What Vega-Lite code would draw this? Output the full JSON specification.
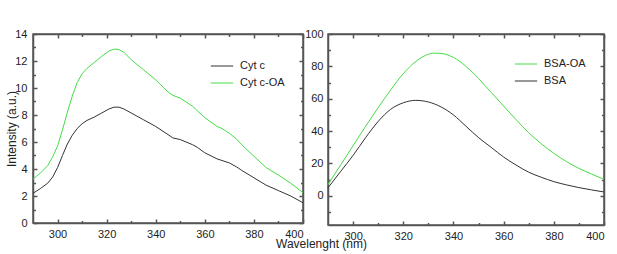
{
  "$schema": "https://vega.github.io/schema/vega-lite/v6.json",
  "padding": {"left": 4, "top": 27, "right": 5, "bottom": 5},
  "bounds": "flush",
  "spacing": 25,
  "resolve": {"scale": {"color": "independent"}, "legend": {"color": "independent"}},
  "datasets": {
    "cyt": [
      {"wl": 290, "v": 2.2, "s": "Cyt c"}, {"wl": 293, "v": 2.55, "s": "Cyt c"}, {"wl": 296, "v": 2.95, "s": "Cyt c"}, {"wl": 298, "v": 3.4, "s": "Cyt c"},
      {"wl": 300, "v": 4.1, "s": "Cyt c"}, {"wl": 302, "v": 5.0, "s": "Cyt c"}, {"wl": 304, "v": 5.85, "s": "Cyt c"}, {"wl": 306, "v": 6.5, "s": "Cyt c"},
      {"wl": 308, "v": 7.0, "s": "Cyt c"}, {"wl": 310, "v": 7.35, "s": "Cyt c"}, {"wl": 312, "v": 7.6, "s": "Cyt c"}, {"wl": 315, "v": 7.85, "s": "Cyt c"},
      {"wl": 318, "v": 8.15, "s": "Cyt c"}, {"wl": 321, "v": 8.45, "s": "Cyt c"}, {"wl": 323, "v": 8.58, "s": "Cyt c"}, {"wl": 325, "v": 8.58, "s": "Cyt c"},
      {"wl": 327, "v": 8.45, "s": "Cyt c"}, {"wl": 330, "v": 8.15, "s": "Cyt c"}, {"wl": 335, "v": 7.65, "s": "Cyt c"}, {"wl": 340, "v": 7.15, "s": "Cyt c"},
      {"wl": 345, "v": 6.55, "s": "Cyt c"}, {"wl": 347, "v": 6.3, "s": "Cyt c"}, {"wl": 350, "v": 6.18, "s": "Cyt c"}, {"wl": 355, "v": 5.8, "s": "Cyt c"},
      {"wl": 357, "v": 5.6, "s": "Cyt c"}, {"wl": 360, "v": 5.2, "s": "Cyt c"}, {"wl": 365, "v": 4.75, "s": "Cyt c"}, {"wl": 370, "v": 4.45, "s": "Cyt c"},
      {"wl": 373, "v": 4.15, "s": "Cyt c"}, {"wl": 375, "v": 3.9, "s": "Cyt c"}, {"wl": 380, "v": 3.35, "s": "Cyt c"}, {"wl": 385, "v": 2.8, "s": "Cyt c"},
      {"wl": 390, "v": 2.4, "s": "Cyt c"}, {"wl": 395, "v": 2.0, "s": "Cyt c"}, {"wl": 400, "v": 1.5, "s": "Cyt c"},
      {"wl": 290, "v": 3.25, "s": "Cyt c-OA"}, {"wl": 293, "v": 3.7, "s": "Cyt c-OA"}, {"wl": 296, "v": 4.25, "s": "Cyt c-OA"}, {"wl": 298, "v": 4.9, "s": "Cyt c-OA"},
      {"wl": 300, "v": 5.7, "s": "Cyt c-OA"}, {"wl": 302, "v": 6.9, "s": "Cyt c-OA"}, {"wl": 304, "v": 8.2, "s": "Cyt c-OA"}, {"wl": 306, "v": 9.4, "s": "Cyt c-OA"},
      {"wl": 308, "v": 10.4, "s": "Cyt c-OA"}, {"wl": 310, "v": 11.05, "s": "Cyt c-OA"}, {"wl": 312, "v": 11.45, "s": "Cyt c-OA"}, {"wl": 315, "v": 11.9, "s": "Cyt c-OA"},
      {"wl": 318, "v": 12.35, "s": "Cyt c-OA"}, {"wl": 321, "v": 12.75, "s": "Cyt c-OA"}, {"wl": 323, "v": 12.88, "s": "Cyt c-OA"}, {"wl": 325, "v": 12.85, "s": "Cyt c-OA"},
      {"wl": 327, "v": 12.65, "s": "Cyt c-OA"}, {"wl": 330, "v": 12.1, "s": "Cyt c-OA"}, {"wl": 335, "v": 11.35, "s": "Cyt c-OA"}, {"wl": 340, "v": 10.6, "s": "Cyt c-OA"},
      {"wl": 345, "v": 9.7, "s": "Cyt c-OA"}, {"wl": 347, "v": 9.45, "s": "Cyt c-OA"}, {"wl": 350, "v": 9.25, "s": "Cyt c-OA"}, {"wl": 355, "v": 8.65, "s": "Cyt c-OA"},
      {"wl": 360, "v": 7.8, "s": "Cyt c-OA"}, {"wl": 365, "v": 7.15, "s": "Cyt c-OA"}, {"wl": 367, "v": 7.0, "s": "Cyt c-OA"}, {"wl": 370, "v": 6.65, "s": "Cyt c-OA"},
      {"wl": 373, "v": 6.2, "s": "Cyt c-OA"}, {"wl": 375, "v": 5.8, "s": "Cyt c-OA"}, {"wl": 380, "v": 4.95, "s": "Cyt c-OA"}, {"wl": 385, "v": 4.1, "s": "Cyt c-OA"},
      {"wl": 390, "v": 3.55, "s": "Cyt c-OA"}, {"wl": 395, "v": 2.95, "s": "Cyt c-OA"}, {"wl": 400, "v": 2.25, "s": "Cyt c-OA"}
    ],
    "bsa": [
      {"wl": 290, "v": 5, "s": "BSA"}, {"wl": 295, "v": 15, "s": "BSA"}, {"wl": 300, "v": 25, "s": "BSA"}, {"wl": 305, "v": 36, "s": "BSA"},
      {"wl": 310, "v": 46, "s": "BSA"}, {"wl": 315, "v": 53.5, "s": "BSA"}, {"wl": 320, "v": 57.5, "s": "BSA"}, {"wl": 325, "v": 59, "s": "BSA"},
      {"wl": 330, "v": 58, "s": "BSA"}, {"wl": 335, "v": 55, "s": "BSA"}, {"wl": 340, "v": 50, "s": "BSA"}, {"wl": 345, "v": 43, "s": "BSA"},
      {"wl": 350, "v": 36, "s": "BSA"}, {"wl": 355, "v": 30, "s": "BSA"}, {"wl": 360, "v": 24, "s": "BSA"}, {"wl": 365, "v": 19, "s": "BSA"},
      {"wl": 370, "v": 14.6, "s": "BSA"}, {"wl": 375, "v": 11.5, "s": "BSA"}, {"wl": 380, "v": 8.8, "s": "BSA"}, {"wl": 385, "v": 6.8, "s": "BSA"},
      {"wl": 390, "v": 5.1, "s": "BSA"}, {"wl": 395, "v": 3.7, "s": "BSA"}, {"wl": 400, "v": 2.4, "s": "BSA"},
      {"wl": 290, "v": 7, "s": "BSA-OA"}, {"wl": 295, "v": 19, "s": "BSA-OA"}, {"wl": 300, "v": 31, "s": "BSA-OA"}, {"wl": 305, "v": 43, "s": "BSA-OA"},
      {"wl": 310, "v": 54.5, "s": "BSA-OA"}, {"wl": 315, "v": 65.5, "s": "BSA-OA"}, {"wl": 320, "v": 75.5, "s": "BSA-OA"}, {"wl": 325, "v": 83, "s": "BSA-OA"},
      {"wl": 330, "v": 87.5, "s": "BSA-OA"}, {"wl": 332, "v": 88.2, "s": "BSA-OA"}, {"wl": 335, "v": 88, "s": "BSA-OA"}, {"wl": 340, "v": 85.5, "s": "BSA-OA"},
      {"wl": 345, "v": 80, "s": "BSA-OA"}, {"wl": 350, "v": 72.5, "s": "BSA-OA"}, {"wl": 355, "v": 64, "s": "BSA-OA"}, {"wl": 360, "v": 55.5, "s": "BSA-OA"},
      {"wl": 365, "v": 47, "s": "BSA-OA"}, {"wl": 370, "v": 39, "s": "BSA-OA"}, {"wl": 375, "v": 32.2, "s": "BSA-OA"}, {"wl": 380, "v": 26.3, "s": "BSA-OA"},
      {"wl": 385, "v": 21.2, "s": "BSA-OA"}, {"wl": 390, "v": 17, "s": "BSA-OA"}, {"wl": 395, "v": 13.5, "s": "BSA-OA"}, {"wl": 400, "v": 10.2, "s": "BSA-OA"}
    ]
  },
  "hconcat": [
    {
      "width": 270,
      "height": 189,
      "data": {"name": "cyt"},
      "layer": [
        {
          "mark": {"type": "line", "strokeWidth": 1},
          "encoding": {
            "x": {"field": "wl", "type": "quantitative", "scale": {"domain": [290, 400], "nice": false, "zero": false},
              "axis": {"orient": "bottom", "values": [300, 320, 340, 360, 380, 400], "grid": false, "domainColor": "#555555", "domainWidth": 1.5, "tickColor": "#555555", "tickWidth": 1.5, "tickSize": -4, "labelPadding": 9.5, "labelColor": "#222222", "labelFont": "Liberation Sans", "labelFontSize": 11,
                "title": "Wavelenght (nm)", "titleColor": "#222222", "titleFont": "Liberation Sans", "titleFontSize": 12, "titleFontWeight": "normal", "titleX": 288, "titleY": 15}},
            "y": {"field": "v", "type": "quantitative", "scale": {"domain": [0, 14], "nice": false, "zero": false},
              "axis": {"orient": "left", "values": [0, 2, 4, 6, 8, 10, 12, 14], "grid": false, "domainColor": "#555555", "domainWidth": 1.5, "tickColor": "#555555", "tickWidth": 1.5, "tickSize": -4, "labelPadding": 10, "labelColor": "#222222", "labelFont": "Liberation Sans", "labelFontSize": 11,
                "title": "Intensity (a.u.)", "titleColor": "#222222", "titleFont": "Liberation Sans", "titleFontSize": 12, "titleFontWeight": "normal", "titleX": -15}},
            "color": {"field": "s", "type": "nominal", "scale": {"domain": ["Cyt c", "Cyt c-OA"], "range": ["#333333", "#44dd44"]},
              "legend": {"orient": "none", "legendX": 177, "legendY": 20, "title": null, "symbolType": "stroke", "symbolSize": 500, "symbolStrokeWidth": 1, "labelOffset": 6, "rowPadding": -10, "labelFont": "Liberation Sans", "labelFontSize": 11, "labelColor": "#222222"}}
          }
        },
        {
          "mark": {"type": "line", "opacity": 0},
          "encoding": {
            "x": {"field": "wl", "type": "quantitative", "scale": {"domain": [290, 400], "nice": false, "zero": false},
              "axis": {"orient": "bottom", "values": [310, 330, 350, 370, 390], "grid": false, "labels": false, "domain": false, "tickColor": "#555555", "tickWidth": 1.5, "tickSize": -2.5, "title": null}},
            "y": {"field": "v", "type": "quantitative", "scale": {"domain": [0, 14], "nice": false, "zero": false},
              "axis": {"orient": "left", "values": [1, 3, 5, 7, 9, 11, 13], "grid": false, "labels": false, "domain": false, "tickColor": "#555555", "tickWidth": 1.5, "tickSize": -2.5, "title": null}},
            "detail": {"field": "s"}
          }
        },
        {
          "mark": {"type": "line", "opacity": 0},
          "encoding": {
            "x": {"field": "wl", "type": "quantitative", "scale": {"domain": [290, 400], "nice": false, "zero": false},
              "axis": {"orient": "top", "values": [300, 320, 340, 360, 380, 400], "grid": false, "labels": false, "domainColor": "#555555", "domainWidth": 1.5, "tickColor": "#555555", "tickWidth": 1.5, "tickSize": -4, "title": null}},
            "y": {"field": "v", "type": "quantitative", "scale": {"domain": [0, 14], "nice": false, "zero": false},
              "axis": {"orient": "right", "values": [0, 2, 4, 6, 8, 10, 12, 14], "grid": false, "labels": false, "domainColor": "#555555", "domainWidth": 1.5, "tickColor": "#555555", "tickWidth": 1.5, "tickSize": -4, "title": null}},
            "detail": {"field": "s"}
          }
        },
        {
          "mark": {"type": "line", "opacity": 0},
          "encoding": {
            "x": {"field": "wl", "type": "quantitative", "scale": {"domain": [290, 400], "nice": false, "zero": false},
              "axis": {"orient": "top", "values": [310, 330, 350, 370, 390], "grid": false, "labels": false, "domain": false, "tickColor": "#555555", "tickWidth": 1.5, "tickSize": -2.5, "title": null}},
            "y": {"field": "v", "type": "quantitative", "scale": {"domain": [0, 14], "nice": false, "zero": false},
              "axis": {"orient": "right", "values": [1, 3, 5, 7, 9, 11, 13], "grid": false, "labels": false, "domain": false, "tickColor": "#555555", "tickWidth": 1.5, "tickSize": -2.5, "title": null}},
            "detail": {"field": "s"}
          }
        }
      ],
      "resolve": {"scale": {"x": "independent", "y": "independent"}, "axis": {"x": "independent", "y": "independent"}}
    },
    {
      "width": 276,
      "height": 191,
      "data": {"name": "bsa"},
      "layer": [
        {
          "mark": {"type": "line", "strokeWidth": 1, "interpolate": "monotone"},
          "encoding": {
            "x": {"field": "wl", "type": "quantitative", "scale": {"domain": [290, 400], "nice": false, "zero": false},
              "axis": {"orient": "bottom", "values": [300, 320, 340, 360, 380, 400], "grid": false, "domainColor": "#555555", "domainWidth": 1.5, "tickColor": "#555555", "tickWidth": 1.5, "tickSize": -4, "labelPadding": 9.5, "labelColor": "#222222", "labelFont": "Liberation Sans", "labelFontSize": 11, "title": null}},
            "y": {"field": "v", "type": "quantitative", "scale": {"domain": [-18, 100], "nice": false, "zero": false},
              "axis": {"orient": "left", "values": [0, 20, 40, 60, 80, 100], "grid": false, "domainColor": "#555555", "domainWidth": 1.5, "tickColor": "#555555", "tickWidth": 1.5, "tickSize": -4, "labelPadding": 9, "labelColor": "#222222", "labelFont": "Liberation Sans", "labelFontSize": 11, "title": null}},
            "color": {"field": "s", "type": "nominal", "scale": {"domain": ["BSA-OA", "BSA"], "range": ["#44dd44", "#333333"]},
              "legend": {"orient": "none", "legendX": 186, "legendY": 18, "title": null, "symbolType": "stroke", "symbolSize": 500, "symbolStrokeWidth": 1, "labelOffset": 6, "rowPadding": -9, "labelFont": "Liberation Sans", "labelFontSize": 11, "labelColor": "#222222"}}
          }
        },
        {
          "mark": {"type": "line", "opacity": 0},
          "encoding": {
            "x": {"field": "wl", "type": "quantitative", "scale": {"domain": [290, 400], "nice": false, "zero": false},
              "axis": {"orient": "bottom", "values": [310, 330, 350, 370, 390], "grid": false, "labels": false, "domain": false, "tickColor": "#555555", "tickWidth": 1.5, "tickSize": -2.5, "title": null}},
            "y": {"field": "v", "type": "quantitative", "scale": {"domain": [-18, 100], "nice": false, "zero": false},
              "axis": {"orient": "left", "values": [-10, 10, 30, 50, 70, 90], "grid": false, "labels": false, "domain": false, "tickColor": "#555555", "tickWidth": 1.5, "tickSize": -2.5, "title": null}},
            "detail": {"field": "s"}
          }
        },
        {
          "mark": {"type": "line", "opacity": 0},
          "encoding": {
            "x": {"field": "wl", "type": "quantitative", "scale": {"domain": [290, 400], "nice": false, "zero": false},
              "axis": {"orient": "top", "values": [300, 320, 340, 360, 380, 400], "grid": false, "labels": false, "domainColor": "#555555", "domainWidth": 1.5, "tickColor": "#555555", "tickWidth": 1.5, "tickSize": -4, "title": null}},
            "y": {"field": "v", "type": "quantitative", "scale": {"domain": [-18, 100], "nice": false, "zero": false},
              "axis": {"orient": "right", "values": [0, 20, 40, 60, 80, 100], "grid": false, "labels": false, "domainColor": "#555555", "domainWidth": 1.5, "tickColor": "#555555", "tickWidth": 1.5, "tickSize": -4, "title": null}},
            "detail": {"field": "s"}
          }
        },
        {
          "mark": {"type": "line", "opacity": 0},
          "encoding": {
            "x": {"field": "wl", "type": "quantitative", "scale": {"domain": [290, 400], "nice": false, "zero": false},
              "axis": {"orient": "top", "values": [310, 330, 350, 370, 390], "grid": false, "labels": false, "domain": false, "tickColor": "#555555", "tickWidth": 1.5, "tickSize": -2.5, "title": null}},
            "y": {"field": "v", "type": "quantitative", "scale": {"domain": [-18, 100], "nice": false, "zero": false},
              "axis": {"orient": "right", "values": [-10, 10, 30, 50, 70, 90], "grid": false, "labels": false, "domain": false, "tickColor": "#555555", "tickWidth": 1.5, "tickSize": -2.5, "title": null}},
            "detail": {"field": "s"}
          }
        }
      ],
      "resolve": {"scale": {"x": "independent", "y": "independent"}, "axis": {"x": "independent", "y": "independent"}}
    }
  ],
  "config": {
    "view": {"stroke": "#555555", "strokeWidth": 1.5}
  }
}
